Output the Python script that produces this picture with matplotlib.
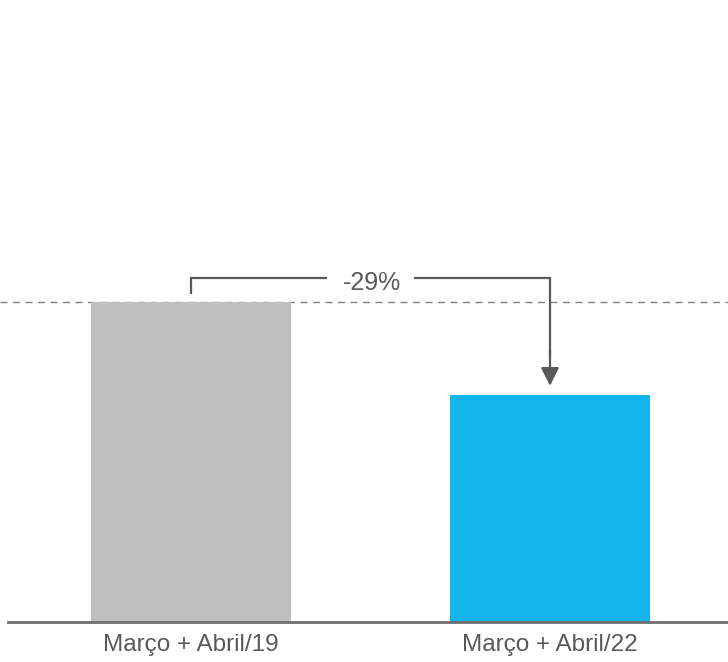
import matplotlib.pyplot as plt

categories = ['Março + Abril/19', 'Março + Abril/22']
values = [100, 71]
colors = ['#bfbfbf', '#13b5ea']

plt.rcParams['font.family'] = ['Liberation Sans', 'DejaVu Sans']
text_col = '#595959'

fig = plt.figure(figsize=(7.28, 6.62), dpi=100)
ax = fig.add_axes([0, 40 / 662, 1, 622 / 662])

x = list(range(len(categories)))
ax.bar(x, values, width=0.557, color=colors, zorder=2)

ax.set_xlim(-191 / 359, 537 / 359)
ax.set_ylim(0, values[0] * 622 / 320)
ax.axis('off')

# baseline
ax.axhline(0, xmin=8 / 728, xmax=1, color='#6e6e6e', lw=2, zorder=3, clip_on=False)

# dashed reference line at first bar
ax.axhline(values[0], color='#808080', lw=1, ls=(0, (5, 4)), zorder=1)

# category labels
for xi, lab in zip(x, categories):
    ax.text(xi, -values[0] * 23 / 320, lab, ha='center', va='center',
            fontsize=17.5, color=text_col, clip_on=False)

# bracket with change
top = values[0] * 1.075
gap = 0.123
mid = (x[0] + x[1]) / 2
ax.plot([x[0], x[0], mid - gap], [values[0] * 1.028, top, top],
        color=text_col, lw=1.6, solid_joinstyle='miter', zorder=4)
ax.plot([mid + gap, x[1], x[1]], [top, top, values[1] + 12],
        color=text_col, lw=1.6, solid_joinstyle='miter', zorder=4)
ax.annotate('', xy=(x[1], values[1] + 2.8), xytext=(x[1], values[1] + 14),
            arrowprops=dict(arrowstyle='-|>,head_length=1.1,head_width=0.55',
                            color=text_col, lw=1.6, shrinkA=0, shrinkB=0), zorder=5)
pct = round((values[1] / values[0] - 1) * 100)
ax.text(mid + 0.005, top - 1.5, f'{pct}%', ha='center', va='center',
        fontsize=18, color=text_col, zorder=6)

fig.savefig('out.png', dpi=100)
